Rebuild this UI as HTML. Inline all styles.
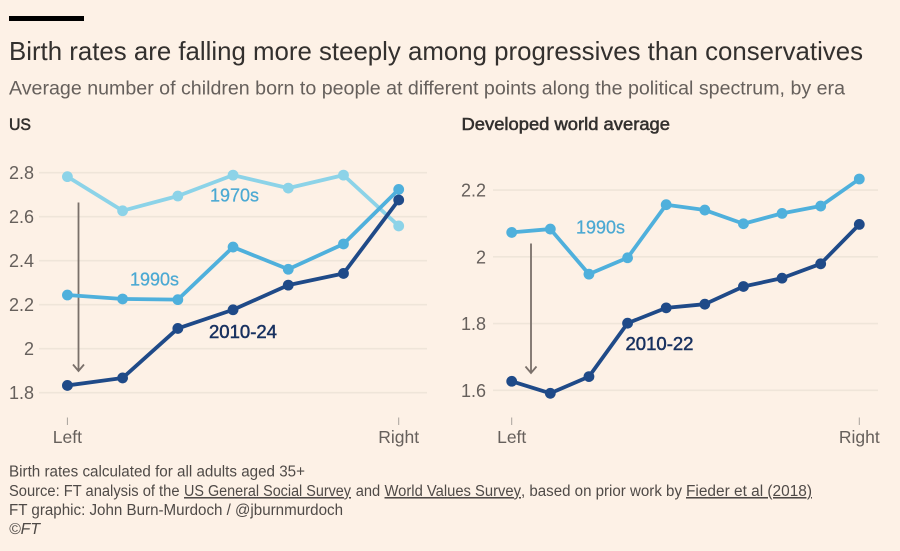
<!DOCTYPE html>
<html lang="en">
<head>
<meta charset="utf-8">
<title>Birth rates are falling more steeply among progressives than conservatives</title>
<style>
html,body{margin:0;padding:0;background:#fdf1e6;}
body{width:900px;height:551px;overflow:hidden;}
svg{display:block;font-family:"Liberation Sans",sans-serif;}
</style>
</head>
<body>
<svg id="chart" width="900" height="551" viewBox="0 0 900 551" xmlns="http://www.w3.org/2000/svg">
  <rect x="0" y="0" width="900" height="551" fill="#fdf1e6"/>
  <rect x="9" y="16" width="75" height="5" fill="#000"/>
  <text x="9" y="60" font-size="26" fill="#33302e" textLength="854" lengthAdjust="spacingAndGlyphs">Birth rates are falling more steeply among progressives than conservatives</text>
  <text x="9" y="94.5" font-size="19" fill="#66605c" textLength="836" lengthAdjust="spacingAndGlyphs">Average number of children born to people at different points along the political spectrum, by era</text>
  <text x="9" y="130" font-size="17" fill="#33302e" stroke="#33302e" stroke-width="0.55" textLength="22" lengthAdjust="spacingAndGlyphs">US</text>
  <text x="461.5" y="130" font-size="17.5" fill="#33302e" stroke="#33302e" stroke-width="0.55" textLength="208.5" lengthAdjust="spacingAndGlyphs">Developed world average</text>

  <g id="panel-us"></g>
  <g id="panel-dev"></g>

  <text x="9" y="476.5" font-size="15.5" fill="#4f4a47" textLength="296" lengthAdjust="spacingAndGlyphs">Birth rates calculated for all adults aged 35+</text>
  <g font-size="15.5" fill="#4f4a47">
    <text x="9" y="496" textLength="170.5" lengthAdjust="spacingAndGlyphs">Source: FT analysis of the</text>
    <text x="184" y="496" text-decoration="underline" textLength="167" lengthAdjust="spacingAndGlyphs">US General Social Survey</text>
    <text x="355.7" y="496" textLength="24.5" lengthAdjust="spacingAndGlyphs">and</text>
    <text x="384.5" y="496" text-decoration="underline" textLength="136.5" lengthAdjust="spacingAndGlyphs">World Values Survey</text>
    <text x="521" y="496" textLength="161" lengthAdjust="spacingAndGlyphs">, based on prior work by</text>
    <text x="686" y="496" text-decoration="underline" textLength="126" lengthAdjust="spacingAndGlyphs">Fieder et al (2018)</text>
  </g>
  <text x="9" y="515" font-size="15.5" fill="#4f4a47" textLength="334" lengthAdjust="spacingAndGlyphs">FT graphic: John Burn-Murdoch / @jburnmurdoch</text>
  <text x="9" y="534" font-size="15.5" font-style="italic" fill="#4f4a47" textLength="31" lengthAdjust="spacingAndGlyphs">©FT</text>
</svg>
<script>
// US panel data
const usTicks = [1.8, 2, 2.2, 2.4, 2.6, 2.8];
const usTickLabels = ["1.8", "2", "2.2", "2.4", "2.6", "2.8"];
const us1970s = [2.782, 2.627, 2.694, 2.789, 2.73, 2.789, 2.558];
const us1990s = [2.244, 2.226, 2.223, 2.462, 2.361, 2.476, 2.724];
const us2010s = [1.833, 1.867, 2.092, 2.177, 2.289, 2.342, 2.676];

// Developed world panel data
const devTicks = [1.6, 1.8, 2, 2.2];
const devTickLabels = ["1.6", "1.8", "2", "2.2"];
const dev1990s = [2.073, 2.083, 1.948, 1.997, 2.156, 2.14, 2.099, 2.13, 2.152, 2.233];
const dev2010s = [1.627, 1.591, 1.641, 1.801, 1.847, 1.858, 1.911, 1.936, 1.979, 2.097];

const xCategoryLabels = ["Left", "Right"];

const NS = "http://www.w3.org/2000/svg";
const LIGHT = "#8cd3e8", MID = "#4fb0dc", DARK = "#1f4a88";

function make(parent, tag, attrs, text) {
  const el = document.createElementNS(NS, tag);
  for (const k in attrs) el.setAttribute(k, attrs[k]);
  if (text !== undefined) el.textContent = text;
  parent.appendChild(el);
  return el;
}

function drawPanel(cfg) {
  const root = document.getElementById(cfg.id);
  const n = cfg.series[0].values.length;
  const xScale = i => cfg.xLeft + (cfg.xRight - cfg.xLeft) * i / (n - 1);
  const yScale = v => cfg.yBase - (v - cfg.vBase) * cfg.pxPerUnit;

  cfg.ticks.forEach((t, i) => {
    const y = yScale(t);
    const line = make(root, "line", {x1: cfg.gridLeft, x2: cfg.gridRight, y1: y, y2: y, stroke: "#efe5d9", "stroke-width": 1.6});
    
    
    const label = make(root, "text", {x: cfg.labelRight, y: y + 6.5, "font-size": 18, fill: "#66605c", "text-anchor": "end"}, cfg.tickLabels[i]);
    
    
  });

  [0, n - 1].forEach((idx, i) => {
    const x = xScale(idx);
    const tick = make(root, "line", {x1: x, x2: x, y1: 417.5, y2: 425, stroke: "#a8a29c", "stroke-width": 1});
    
    
    const label = make(root, "text", {x: x, y: 443, "font-size": 17.5, fill: "#66605c", "text-anchor": "middle"}, xCategoryLabels[i]);
    
    
  });

  const ax = cfg.arrowX;
  const arrow = make(root, "path", {
    d: `M${ax} ${cfg.arrowTop}V${cfg.arrowBottom}M${ax - 5.5} ${cfg.arrowBottom - 6.5}L${ax} ${cfg.arrowBottom}L${ax + 5.5} ${cfg.arrowBottom - 6.5}`,
    fill: "none", stroke: "#7a706a", "stroke-width": 1.8
  });
  
  

  cfg.series.forEach(s => {
    const pts = s.values.map((v, i) => xScale(i) + "," + yScale(v)).join(" ");
    const line = make(root, "polyline", {points: pts, fill: "none", stroke: s.color, "stroke-width": 3.8, "stroke-linejoin": "round"});
    
    
    s.values.forEach((v, i) => {
      const dot = make(root, "circle", {cx: xScale(i), cy: yScale(v), r: 5.4, fill: s.color});
      
      
    });
  });

  cfg.labels.forEach(l => {
    const t = make(root, "text", {x: l.x, y: l.y, "font-size": 18.5, fill: l.color, textLength: l.w, lengthAdjust: "spacingAndGlyphs", stroke: l.color, "stroke-width": l.sw}, l.text);
    
    
  });
}

drawPanel({
  id: "panel-us",
  series: [
    {name: "1970s", values: us1970s, color: LIGHT},
    {name: "1990s", values: us1990s, color: MID},
    {name: "2010-24", values: us2010s, color: DARK}
  ],
  ticks: usTicks, tickLabels: usTickLabels,
  xLeft: 67.4, xRight: 398.7,
  yBase: 392.7, vBase: 1.8, pxPerUnit: 220,
  gridLeft: 39, gridRight: 427, labelRight: 34,
  arrowX: 78.5, arrowTop: 202.5, arrowBottom: 371,
  labels: [
    {text: "1970s", x: 210, y: 201.5, w: 49, color: "#4ba9d3", sw: 0.25},
    {text: "1990s", x: 130, y: 285.5, w: 49, color: "#4ba9d3", sw: 0.25},
    {text: "2010-24", x: 209, y: 338, w: 68, color: "#17305f", sw: 0.5}
  ]
});

drawPanel({
  id: "panel-dev",
  series: [
    {name: "1990s", values: dev1990s, color: MID},
    {name: "2010-22", values: dev2010s, color: DARK}
  ],
  ticks: devTicks, tickLabels: devTickLabels,
  xLeft: 511.7, xRight: 859.3,
  yBase: 390.3, vBase: 1.6, pxPerUnit: 333.8,
  gridLeft: 493, gridRight: 878, labelRight: 486,
  arrowX: 531, arrowTop: 243.5, arrowBottom: 373,
  labels: [
    {text: "1990s", x: 576, y: 233.5, w: 49, color: "#4ba9d3", sw: 0.25},
    {text: "2010-22", x: 625.5, y: 350, w: 68, color: "#17305f", sw: 0.5}
  ]
});
</script>
</body>
</html>
